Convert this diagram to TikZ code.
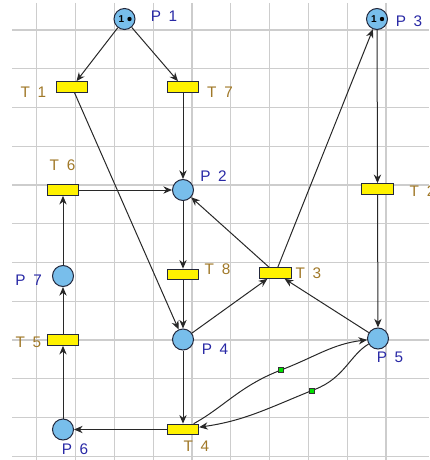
\documentclass[tikz,border=0pt]{standalone}
\usepackage{fontspec}
\setmainfont{Liberation Sans}
\usetikzlibrary{arrows.meta}

\definecolor{placeblue}{RGB}{120,190,235}
\definecolor{rimdark}{RGB}{35,40,60}
\definecolor{arcgray}{RGB}{40,40,40}
\definecolor{gridgray}{RGB}{205,205,205}
\definecolor{pblue}{RGB}{40,40,165}
\definecolor{tbrown}{RGB}{160,120,40}
\definecolor{jointgreen}{RGB}{0,225,0}

\tikzset{every picture/.style={line width=0.75pt}}
\tikzset{
  place/.style={circle, draw=rimdark, fill=placeblue, minimum size=15.75pt, inner sep=0pt},
  trans/.style={rectangle, draw=rimdark, fill=yellow, minimum width=23.5pt, minimum height=8pt, inner sep=0pt},
  joint/.style={rectangle, draw=black!80, fill=jointgreen, minimum size=3.75pt, inner sep=0pt, line width=0.5pt},
  arc/.style={draw=arcgray, -{Stealth[length=6.5pt,width=5.5pt]}},
  gridline/.style={draw=gridgray, line width=0.9pt},
  plabel/.style={inner sep=0.75pt, text=pblue, font={\fontsize{11.5}{13}\selectfont\spaceskip=0.5em}},
  tlabel/.style={inner sep=0.75pt, text=tbrown, font={\fontsize{11.5}{13}\selectfont\spaceskip=0.5em}},
  tokentext/.style={inner sep=0pt, font={\fontsize{7.5}{8}\selectfont\bfseries}}
}

\begin{document}
\begin{tikzpicture}[x=0.75pt,y=0.75pt,yscale=-1,xscale=1]
\useasboundingbox (0,0) rectangle (429,460);

%Grid
\draw [gridline] (36.7,3) -- (36.7,460) ;
\draw [gridline] (75.5,3) -- (75.5,460) ;
\draw [gridline] (114.3,3) -- (114.3,460) ;
\draw [gridline] (153.1,3) -- (153.1,460) ;
\draw [gridline] (191.9,3) -- (191.9,460) ;
\draw [gridline] (230.7,3) -- (230.7,460) ;
\draw [gridline] (269.5,3) -- (269.5,460) ;
\draw [gridline] (308.3,3) -- (308.3,460) ;
\draw [gridline] (347.1,3) -- (347.1,460) ;
\draw [gridline] (385.9,3) -- (385.9,460) ;
\draw [gridline] (12,30) -- (429,30) ;
\draw [gridline] (12,68.75) -- (429,68.75) ;
\draw [gridline] (12,107.5) -- (429,107.5) ;
\draw [gridline] (12,146.25) -- (429,146.25) ;
\draw [gridline] (12,185) -- (429,185) ;
\draw [gridline] (12,223.75) -- (429,223.75) ;
\draw [gridline] (12,262.5) -- (429,262.5) ;
\draw [gridline] (12,301.25) -- (429,301.25) ;
\draw [gridline] (12,340) -- (429,340) ;
\draw [gridline] (12,378.75) -- (429,378.75) ;
\draw [gridline] (12,417.5) -- (429,417.5) ;
\draw [gridline] (12,456.25) -- (429,456.25) ;

%Shape: Places
\node [place] (P1) at (124.5,19) {};
\node [place] (P2) at (183,190) {};
\node [place] (P3) at (377,19) {};
\node [place] (P4) at (183,339.5) {};
\node [place] (P5) at (378,338.5) {};
\node [place] (P6) at (63,429.5) {};
\node [place] (P7) at (63,276) {};

%Shape: Tokens
\node [tokentext] (k1) at (121.5,19) {1};
\fill [black] (129.5,19) circle (2.2) ;
\node [tokentext] (k3) at (374,19) {1};
\fill [black] (382,19) circle (2.2) ;

%Shape: Transitions
\node [trans] (T1) at (72,87) {};
\node [trans] (T2) at (377.5,189) {};
\node [trans] (T3) at (275.5,273) {};
\node [trans] (T4) at (183,429.5) {};
\node [trans] (T5) at (63,340) {};
\node [trans] (T6) at (63,190) {};
\node [trans] (T7) at (183,87) {};
\node [trans] (T8) at (183,274.5) {};

%Shape: Arc points
\node [joint] (g1) at (281,370) {};
\node [joint] (g2) at (312,390.5) {};

%Straight Lines
\draw [arc] (P1) -- (T1) ;
\draw [arc] (P1) -- (T7) ;
\draw [arc] (T1) -- (P4) ;
\draw [arc] (T7) -- (P2) ;
\draw [arc] (P2) -- (T8) ;
\draw [arc] (T8) -- (P4) ;
\draw [arc] (P4) -- (T4) ;
\draw [arc] (T4) -- (P6) ;
\draw [arc] (P6) -- (T5) ;
\draw [arc] (T5) -- (P7) ;
\draw [arc] (P7) -- (T6) ;
\draw [arc] (T6) -- (P2) ;
\draw [arc] (P4) -- (T3) ;
\draw [arc] (P5) -- (T3) ;
\draw [arc] (T3) -- (P2) ;
\draw [arc] (T3) -- (P3) ;
\draw [arc] (P3) -- (T2) ;
\draw [arc] (T2) -- (P5) ;
%Curves (angles flipped by yscale=-1)
\draw [arc] (T4) to[out=-40,in=155] (g1) to[out=-25,in=167] (P5) ;
\draw [arc] (P5) to[out=130,in=-25] (g2) to[out=155,in=-17] (T4) ;

% Text Node
\node [plabel] (lP1) at (164,16.5) {P 1};
% Text Node
\node [plabel] (lP2) at (213.5,176) {P 2};
% Text Node
\node [plabel] (lP3) at (409,21) {P 3};
% Text Node
\node [plabel] (lP4) at (215,349) {P 4};
% Text Node
\node [plabel] (lP5) at (390,357.5) {P 5};
% Text Node
\node [plabel] (lP6) at (75,449) {P 6};
% Text Node
\node [plabel] (lP7) at (28.7,280.5) {P 7};
% Text Node
\node [tlabel] (lT1) at (33.3,92.5) {T 1};
% Text Node
\node [tlabel] (lT2) at (422.5,191.5) {T 2};
% Text Node
\node [tlabel] (lT3) at (308.3,273) {T 3};
% Text Node
\node [tlabel] (lT4) at (196.3,446.7) {T 4};
% Text Node
\node [tlabel] (lT5) at (28.3,342.5) {T 5};
% Text Node
\node [tlabel] (lT6) at (62.5,165) {T 6};
% Text Node
\node [tlabel] (lT7) at (220,92.5) {T 7};
% Text Node
\node [tlabel] (lT8) at (217.5,269.7) {T 8};

\end{tikzpicture}
\end{document}
